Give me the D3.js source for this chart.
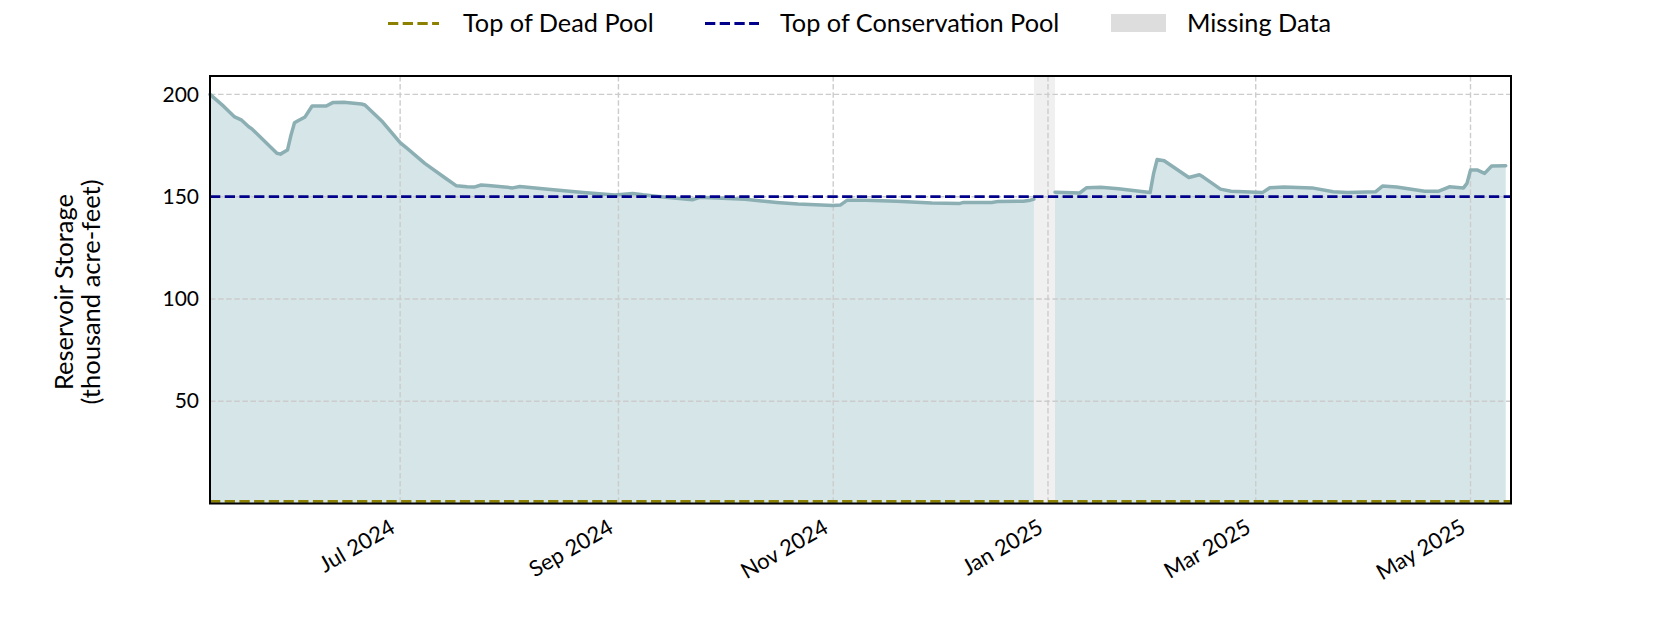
<!DOCTYPE html>
<html><head><meta charset="utf-8">
<script src="https://cdn.jsdelivr.net/npm/d3@7"></script>
<style>body{margin:0;background:#fff;} svg{display:block;font-family:Lato,"Open Sans",sans-serif;}</style>
</head><body><svg id="chart" width="1680" height="630"></svg>
<script>
const dates = ["2024-05-08","2024-05-12","2024-05-15","2024-05-17","2024-05-19","2024-05-20","2024-05-27","2024-05-28","2024-05-30","2024-05-31",
"2024-06-01","2024-06-02","2024-06-04","2024-06-06","2024-06-10","2024-06-12","2024-06-15","2024-06-20","2024-06-21","2024-06-26",
"2024-07-01","2024-07-03","2024-07-08","2024-07-14","2024-07-17","2024-07-20","2024-07-22","2024-07-24","2024-07-26","2024-08-02",
"2024-08-04","2024-08-12","2024-08-22","2024-08-31","2024-09-05","2024-09-08","2024-09-13","2024-09-19","2024-09-22","2024-09-24",
"2024-10-07","2024-10-16","2024-10-22","2024-11-01","2024-11-03","2024-11-05","2024-11-10","2024-11-19","2024-11-29","2024-12-07",
"2024-12-08","2024-12-16","2024-12-18","2024-12-25","2024-12-27","2024-12-28","2024-12-31","2025-01-03","2025-01-10","2025-01-12",
"2025-01-16","2025-01-21","2025-01-30","2025-01-31","2025-02-01","2025-02-03","2025-02-10","2025-02-13","2025-02-14","2025-02-19",
"2025-02-22","2025-03-03","2025-03-05","2025-03-09","2025-03-17","2025-03-23","2025-03-27","2025-04-04","2025-04-06","2025-04-10",
"2025-04-18","2025-04-22","2025-04-25","2025-04-29","2025-04-30","2025-05-01","2025-05-03","2025-05-05","2025-05-07","2025-05-11"];
const storage = [200,194,189,187.4,184.2,183,171.2,170.8,172.8,180.1,
186.1,187.1,189,194.3,194.3,196.1,196.2,195.3,194.8,186.6,
176.4,173.6,166.3,158.9,155.3,154.8,154.7,155.7,155.5,154.3,
155,153.6,152.1,150.8,151.6,150.9,150,149,148.5,149.7,
148.7,147.2,146.4,145.7,145.9,148.3,148.3,147.8,146.9,146.7,
147.2,147.2,147.7,147.8,148.3,148.8,null,152.2,151.8,154.4,
154.6,153.9,152,161.4,168.2,167.6,159.4,160.7,159.7,153.7,
152.7,152.1,154.4,154.7,154.3,152.4,152.1,152.4,155.2,154.7,
152.7,152.7,154.8,154.3,156.5,163,163,161.4,165,165.1];
const missingStart = "2024-12-28";
const missingEnd = "2025-01-03";
const deadPool = 1;
const conservationPool = 150;
const xTickDates = ["2024-07-01","2024-09-01","2024-11-01","2025-01-01","2025-03-01","2025-05-01"];
const xTickLabels = ["Jul 2024","Sep 2024","Nov 2024","Jan 2025","Mar 2025","May 2025"];
const yTicks = [50,100,150,200];
const legendLabels = ["Top of Dead Pool","Top of Conservation Pool","Missing Data"];
const yLabelLines = ["Reservoir Storage","(thousand acre-feet)"];

const parse = d3.utcParse("%Y-%m-%d");
const rows = dates.map((d,i)=>({date:parse(d), v:storage[i]}));
const svg = d3.select("#chart");
const L=210, R=1511, T=76, B=503.5;
const x = d3.scaleUtc().domain([parse("2024-05-08"), new Date(Date.UTC(2025,4,12,12))]).range([L,R]);
const y = d3.scaleLinear().domain([0,209]).range([B,T]);

const colorFill="#d6e5e8", colorLine="#8cafb4", colorCons="#00008b", colorDead="#8b8000";
const dash="10.3,4.4";
const FONT="Lato";

// missing band
svg.append("rect").attr("x",x(parse(missingStart))).attr("y",T)
  .attr("width",x(parse(missingEnd))-x(parse(missingStart))).attr("height",B-T).attr("fill","#f0f0f0");

// area fill
const def = d=>d.v!=null;
svg.append("path").datum(rows).attr("fill",colorFill)
  .attr("d",d3.area().defined(def).x(d=>x(d.date)).y0(y(0)).y1(d=>y(d.v)));

// grid
const g = svg.append("g");
g.selectAll(".gy").data(yTicks).join("line").attr("x1",L).attr("x2",R)
  .attr("y1",d=>y(d)).attr("y2",d=>y(d)).attr("stroke","#cccccc").attr("stroke-width",1.4).attr("stroke-dasharray","5.5,2.6");
g.selectAll(".gx").data(xTickDates).join("line").attr("y1",T).attr("y2",B)
  .attr("x1",d=>x(parse(d))).attr("x2",d=>x(parse(d))).attr("stroke","#cccccc").attr("stroke-width",1.4).attr("stroke-dasharray","5.5,2.6");

// storage line
svg.append("path").datum(rows).attr("fill","none").attr("stroke",colorLine).attr("stroke-width",3.5)
  .attr("stroke-linejoin","round").attr("stroke-linecap","round")
  .attr("d",d3.line().defined(def).x(d=>x(d.date)).y(d=>y(d.v)));

// pools
svg.append("line").attr("x1",L).attr("x2",R).attr("y1",y(conservationPool)).attr("y2",y(conservationPool))
  .attr("stroke",colorCons).attr("stroke-width",2.8).attr("stroke-dasharray",dash);
svg.append("line").attr("x1",L).attr("x2",R).attr("y1",y(deadPool)).attr("y2",y(deadPool))
  .attr("stroke",colorDead).attr("stroke-width",2.8).attr("stroke-dasharray",dash);

// frame
svg.append("rect").attr("x",L).attr("y",T).attr("width",R-L).attr("height",B-T)
  .attr("fill","none").attr("stroke","#000").attr("stroke-width",2);

// y axis
const ya = svg.append("g").attr("transform",`translate(${L},0)`)
  .call(d3.axisLeft(y).tickValues(yTicks).tickSize(0).tickPadding(11));
ya.select(".domain").remove();
ya.selectAll("text").attr("font-size",21).attr("font-family",FONT).attr("fill","#000");

// x axis
const xa = svg.append("g").attr("transform",`translate(0,${B})`)
  .call(d3.axisBottom(x).tickValues(xTickDates.map(parse)).tickSize(0).tickFormat((d,i)=>xTickLabels[i]));
xa.select(".domain").remove();
xa.selectAll("text").attr("font-size",22).attr("font-family",FONT).attr("fill","#000")
  .attr("text-anchor","end").attr("dy",null).attr("y",null)
  .attr("transform","translate(-4,28) rotate(-30)");

// y label
const yl = svg.append("text").attr("transform","translate(0,292) rotate(-90)")
  .attr("text-anchor","middle").attr("font-size",25.5).attr("font-family",FONT).attr("fill","#000");
yLabelLines.forEach((t,i)=>yl.append("tspan").attr("x",0).attr("y",73+i*27).text(t));

// legend
const lg = svg.append("g").attr("font-family",FONT).attr("font-size",25.3);
const ly = 23.5;
lg.append("line").attr("x1",388).attr("x2",439).attr("y1",ly).attr("y2",ly).attr("stroke",colorDead).attr("stroke-width",2.8).attr("stroke-dasharray",dash);
lg.append("text").attr("x",463).attr("y",ly).attr("dy","0.35em").text(legendLabels[0]);
lg.append("line").attr("x1",705).attr("x2",759).attr("y1",ly).attr("y2",ly).attr("stroke",colorCons).attr("stroke-width",2.8).attr("stroke-dasharray",dash);
lg.append("text").attr("x",780).attr("y",ly).attr("dy","0.35em").text(legendLabels[1]);
lg.append("rect").attr("x",1111).attr("y",14).attr("width",55).attr("height",18).attr("fill","#dddddd");
lg.append("text").attr("x",1187).attr("y",ly).attr("dy","0.35em").text(legendLabels[2]);
</script></body></html>
